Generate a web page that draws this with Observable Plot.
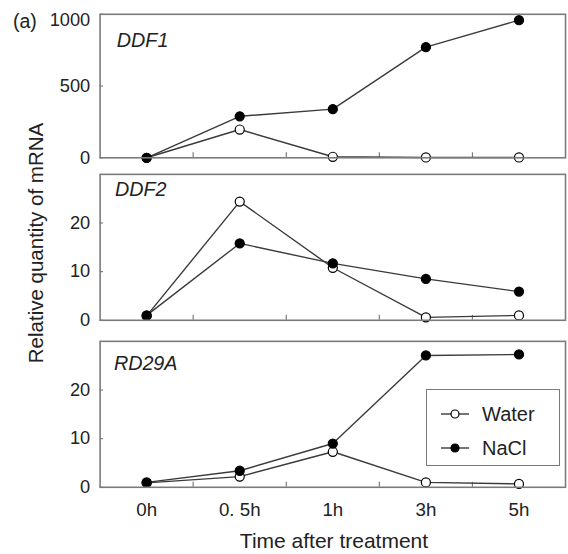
<!DOCTYPE html>
<html><head><meta charset="utf-8">
<script src="https://cdn.jsdelivr.net/npm/d3@7"></script>
<script src="https://cdn.jsdelivr.net/npm/@observablehq/plot@0.6"></script>
<style>
html,body{margin:0;padding:0;background:#fff;overflow:hidden;}
#c{position:relative;width:568px;height:554px;overflow:hidden;font-family:"Liberation Sans",Arial,sans-serif;color:#222;}
#c > *{position:absolute;}
</style></head><body><div id="c"></div>
<script>
// ---- data ----
const times = ["0h", "0. 5h", "1h", "3h", "5h"];
const genes = ["DDF1", "DDF2", "RD29A"];
const seriesNames = ["Water", "NaCl"];
const ddf1Water = [0, 197, 7, 2, 2];
const ddf1NaCl = [0, 289, 339, 771, 959];
const ddf2Water = [0.9, 24.4, 10.8, 0.6, 1.0];
const ddf2NaCl = [1.0, 15.8, 11.7, 8.5, 5.9];
const rd29aWater = [0.9, 2.2, 7.3, 1.0, 0.7];
const rd29aNaCl = [1.0, 3.4, 9.0, 27.1, 27.3];
const yMax = [1000, 30, 30];
const yTicks = [[0, 500, 1000], [0, 10, 20], [0, 10, 20]];
const panelTag = "(a)";
const xTitle = "Time after treatment";
const yTitle = "Relative quantity of mRNA";

const FONT = "Liberation Sans, Arial, sans-serif";
const c = document.getElementById("c");
const panelData = [[ddf1Water, ddf1NaCl], [ddf2Water, ddf2NaCl], [rd29aWater, rd29aNaCl]];
const layout = [
  {top: 0,   height: 162, mt: 14, mb: 2.5, gdx: 17, gdy: 27},
  {top: 164, height: 161, mt: 10, mb: 3,   gdx: 15, gdy: 16},
  {top: 331, height: 223, mt: 10, mb: 65,  gdx: 14, gdy: 23}
];
const W = 576, ML = 101, MR = 3;
const step = (W - ML - MR) / 5;

function panel(k) {
  const L = layout[k];
  const [water, nacl] = panelData[k];
  const rows = [];
  water.forEach((v, i) => rows.push({i, v, s: seriesNames[0]}));
  nacl.forEach((v, i) => rows.push({i, v, s: seriesNames[1]}));
  const pxPerUnit = (L.height - L.mt - L.mb) / yMax[k];
  const mids = [0.5, 1.5, 2.5, 3.5];
  const normalTicks = yTicks[k].filter(v => v < yMax[k]);
  const topTicks = yTicks[k].filter(v => v >= yMax[k]);
  const yAxisOpts = {tickSize: 0, tickPadding: 10, fontSize: 18.5, label: null, tickFormat: d => String(d)};
  const marks = [
    Plot.ruleX(mids, {x: d => d, y1: 0, y2: 5 / pxPerUnit, stroke: "#7a7a7a", strokeWidth: 1.2}),
    Plot.ruleY(yTicks[k], {y: d => d, x1: -0.5, x2: -0.5 + 3.5 / step, stroke: "#7a7a7a", strokeWidth: 1.2}),
    Plot.axisY(normalTicks, yAxisOpts),
    Plot.line(rows, {x: "i", y: "v", z: "s", stroke: "#3a3a3a", strokeWidth: 1.4}),
    Plot.dot(rows, {x: "i", y: "v", r: 4.6, fill: d => d.s === "Water" ? "#ffffff" : "#000000", stroke: "#000", strokeWidth: 1.2}),
    Plot.text([genes[k]], {text: d => d, frameAnchor: "top-left", dx: L.gdx, dy: L.gdy, textAnchor: "start", lineAnchor: "middle", fontSize: 20, fontStyle: "italic", fill: "#222"}),
    Plot.frame({stroke: "#7a7a7a", strokeWidth: 1.6})
  ];
  if (topTicks.length) marks.push(Plot.axisY(topTicks, {...yAxisOpts, dy: 6}));
  if (k === 2) marks.push(Plot.axisX([0, 1, 2, 3, 4], {tickSize: 0, tickPadding: 16, fontSize: 19, label: null, tickFormat: i => times[i]}));
  const svg = Plot.plot({
    width: W, height: L.height,
    marginLeft: ML, marginRight: MR, marginTop: L.mt, marginBottom: L.mb,
    x: {type: "linear", domain: [-0.5, 4.5], axis: k === 2 ? undefined : null, label: null},
    y: {domain: [0, yMax[k]], label: null},
    color: {type: "identity"},
    style: {fontFamily: FONT, fontSize: "18.5px", color: "#222", background: "transparent", overflow: "visible"},
    marks
  });
  svg.style.left = "0px";
  svg.style.top = L.top + "px";
  c.appendChild(svg);
}
[0, 1, 2].forEach(panel);

// panel tag
const tag = document.createElement("div");
tag.textContent = panelTag;
Object.assign(tag.style, {left: "13px", top: "9px", fontSize: "19.5px", lineHeight: "24px"});
c.appendChild(tag);

// y title
const yt = document.createElement("div");
yt.textContent = yTitle;
Object.assign(yt.style, {left: "36px", top: "242.5px", fontSize: "20.5px", whiteSpace: "nowrap", transform: "translate(-50%,-50%) rotate(-90deg)", lineHeight: "24px"});
c.appendChild(yt);

// x title
const xt = document.createElement("div");
xt.textContent = xTitle;
Object.assign(xt.style, {left: "334px", top: "541px", fontSize: "21px", whiteSpace: "nowrap", transform: "translate(-50%,-50%)", lineHeight: "24px"});
c.appendChild(xt);

// legend
const lg = document.createElement("div");
Object.assign(lg.style, {left: "426px", top: "389px", width: "132px", height: "75px", border: "1.6px solid #7a7a7a", background: "#fff"});
seriesNames.forEach((name, j) => {
  const row = document.createElement("div");
  Object.assign(row.style, {position: "absolute", left: "0px", top: (12 + j * 33.5) + "px", height: "24px", display: "flex", alignItems: "center"});
  const ns = "http://www.w3.org/2000/svg";
  const s = document.createElementNS(ns, "svg");
  s.setAttribute("width", "55"); s.setAttribute("height", "24");
  const ln = document.createElementNS(ns, "line");
  ln.setAttribute("x1", "14"); ln.setAttribute("x2", "42"); ln.setAttribute("y1", "12"); ln.setAttribute("y2", "12");
  ln.setAttribute("stroke", "#3a3a3a"); ln.setAttribute("stroke-width", "1.4");
  const ci = document.createElementNS(ns, "circle");
  ci.setAttribute("cx", "28"); ci.setAttribute("cy", "12"); ci.setAttribute("r", "4");
  ci.setAttribute("fill", j === 0 ? "#fff" : "#000"); ci.setAttribute("stroke", "#000"); ci.setAttribute("stroke-width", "1.2");
  s.appendChild(ln); s.appendChild(ci);
  const t = document.createElement("span");
  t.textContent = name;
  Object.assign(t.style, {fontSize: "20px", lineHeight: "24px"});
  row.appendChild(s); row.appendChild(t);
  lg.appendChild(row);
});
c.appendChild(lg);
</script></body></html>
